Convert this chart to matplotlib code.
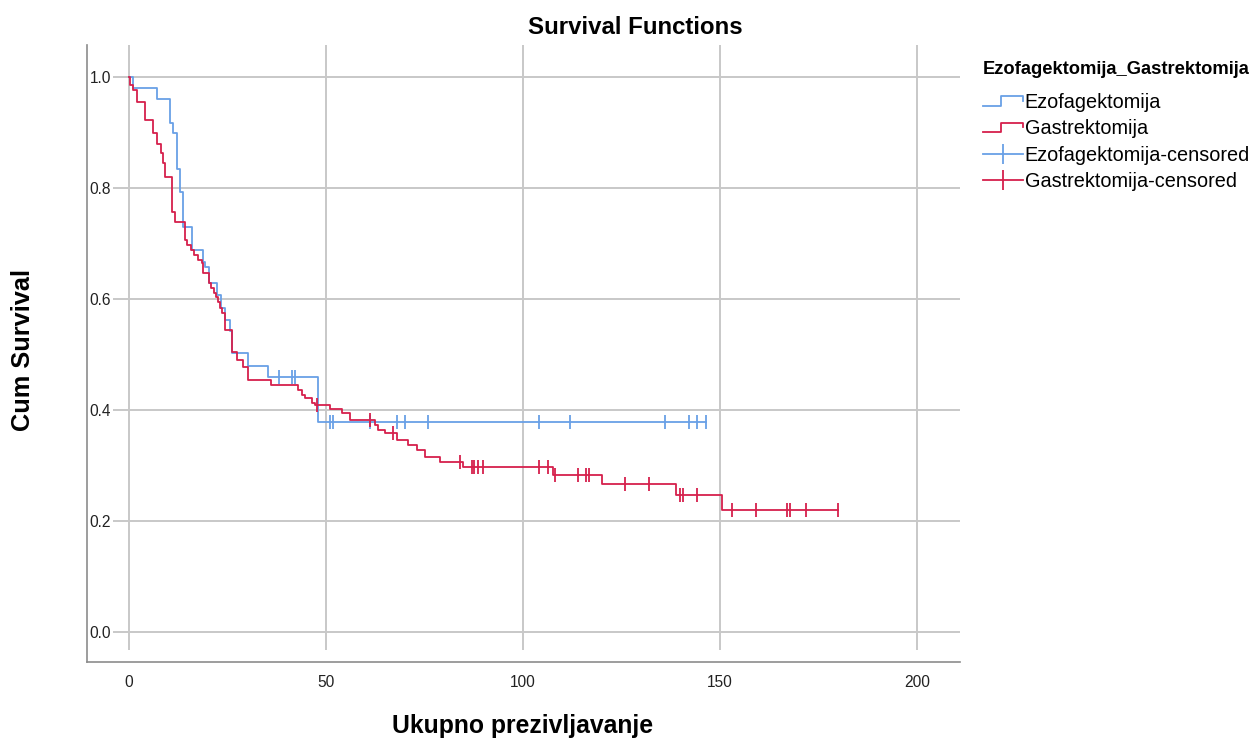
import numpy as np
import matplotlib
matplotlib.use("Agg")
import matplotlib.pyplot as plt
from matplotlib.lines import Line2D
from matplotlib.legend_handler import HandlerBase

plt.rcParams['font.family'] = ['Liberation Sans', 'DejaVu Sans']

# Kaplan-Meier step values: survival after each event time
ezo_times = [0, 1, 7, 10.4, 11.2, 12.2, 12.9, 13.7, 16, 18.8, 19.4, 20.4,
             22.3, 23.4, 24.4, 25.6, 26.2, 30.2, 35.2, 48]
ezo_surv = [1.0, 0.98, 0.96, 0.917, 0.899, 0.834, 0.793, 0.73, 0.688, 0.667,
            0.658, 0.629, 0.607, 0.584, 0.562, 0.542, 0.502, 0.48, 0.46, 0.378]
ezo_censored = [38, 41.4, 42.1, 51, 51.8, 61.2, 68, 70, 76, 104, 112, 136,
                142, 144.2, 146.5]

gas_times = [0, 0.3, 1, 2, 4, 6, 7, 8, 8.7, 9.1, 10.9, 11.7, 14.2, 14.8,
             15.8, 16.6, 17.4, 18.6, 18.9, 20.2, 20.7, 21.5, 22, 22.7, 23.2,
             23.7, 24.4, 26.1, 27.4, 29, 30.2, 36, 43, 44, 44.7, 46.4, 47.3,
             51, 54, 56, 62.4, 63.3, 65, 68, 70.8, 73, 75, 79, 84.8, 107.7,
             120, 138.8, 150.6]
gas_surv = [1.0, 0.986, 0.977, 0.955, 0.922, 0.899, 0.88, 0.863, 0.845, 0.82,
            0.757, 0.739, 0.706, 0.697, 0.688, 0.679, 0.67, 0.665, 0.647,
            0.629, 0.62, 0.611, 0.604, 0.595, 0.584, 0.575, 0.544, 0.505,
            0.49, 0.477, 0.454, 0.445, 0.436, 0.427, 0.421, 0.413, 0.409,
            0.402, 0.395, 0.382, 0.373, 0.364, 0.358, 0.346, 0.337, 0.328,
            0.315, 0.306, 0.297, 0.283, 0.267, 0.247, 0.22]
gas_censored = [47.7, 61.2, 67, 84, 87.1, 87.6, 88.6, 89.8, 104, 106.3,
                108.2, 114, 116, 116.8, 126, 132, 139.8, 140.6, 144.2, 153,
                159, 167, 167.8, 171.8, 180]

groups = ["Ezofagektomija", "Gastrektomija"]
colors = ["#69a0e6", "#d6204c"]


def surv_at(times, surv, t):
    idx = np.searchsorted(times, t, side='right') - 1
    return np.asarray(surv)[idx]


class StepHandler(HandlerBase):
    """Draws a little step shape as the legend key."""
    def create_artists(self, legend, orig_handle, xdescent, ydescent,
                       width, height, fontsize, trans):
        x0 = -xdescent
        y0 = -ydescent
        xs = [x0, x0 + 0.45 * width, x0 + 0.45 * width, x0 + width, x0 + width]
        ys = [y0 + 0.15 * height, y0 + 0.15 * height, y0 + 0.85 * height,
              y0 + 0.85 * height, y0 + 0.5 * height]
        line = Line2D(xs, ys, color=orig_handle.get_color(),
                      lw=orig_handle.get_linewidth(), transform=trans)
        return [line]


W, H = 1253, 740
fig = plt.figure(figsize=(W / 100, H / 100), dpi=100)
ax = fig.add_axes([113 / W, 1 - 650 / H, (960 - 113) / W, (650 - 45) / H])

data = [(ezo_times, ezo_surv, ezo_censored), (gas_times, gas_surv, gas_censored)]
step_handles = []
cens_handles = []
for (times, surv, cens), col, name in zip(data, colors, groups):
    end = max(cens)
    xs = list(times) + [end]
    ys = list(surv) + [surv[-1]]
    ln, = ax.step(xs, ys, where='post', color=col, lw=1.3, zorder=3)
    cy = surv_at(times, surv, cens)
    ax.plot(cens, cy, ls='none', marker='|', ms=10, mew=1.3, color=col, zorder=4)
    step_handles.append(ln)
    cens_handles.append(Line2D([], [], color=col, lw=1.3, marker='|', ms=14, mew=1.3))

ax.set_xlim(-4.06, 210.9)
ax.set_ylim(-0.0324, 1.0577)
ax.set_xticks([0, 50, 100, 150, 200])
ax.set_yticks([0.0, 0.2, 0.4, 0.6, 0.8, 1.0])
ax.set_yticklabels(["0.0", "0.2", "0.4", "0.6", "0.8", "1.0"])
ax.grid(True, color="#c8c8c8", lw=1.4)
ax.set_axisbelow(True)
for s in ax.spines.values():
    s.set_visible(False)
ax.tick_params(axis='both', length=0, labelsize=11.2, labelcolor="#222222")
ax.tick_params(axis='x', pad=18)
ax.tick_params(axis='y', pad=1.5)

# L-shaped outer frame
fig.add_artist(Line2D([87 / W, 87 / W], [1 - 45 / H, 1 - 662 / H],
                      transform=fig.transFigure, color="#8c8c8c", lw=1.2))
fig.add_artist(Line2D([87 / W, 960 / W], [1 - 662 / H, 1 - 662 / H],
                      transform=fig.transFigure, color="#8c8c8c", lw=1.2))

fig.text(635 / W, 1 - 27 / H, "Survival Functions", ha='center', va='center',
         fontsize=17.3, fontweight='bold')
fig.text(523 / W, 1 - 726 / H, "Ukupno prezivljavanje", ha='center', va='center',
         fontsize=17.8, fontweight='bold')
fig.text(23 / W, 1 - 350 / H, "Cum Survival", ha='center', va='center',
         rotation=90, fontsize=18.3, fontweight='bold')

handles = step_handles + cens_handles
labels = ["Ezofagektomija", "Gastrektomija",
          "Ezofagektomija-censored", "Gastrektomija-censored"]
leg = fig.legend(handles, labels, loc='upper left',
                 bbox_to_anchor=(983 / W, 1 - 61 / H), frameon=False,
                 title="Ezofagektomija_Gastrektomija", alignment='left',
                 fontsize=14.3, handlelength=2.0, handletextpad=0.1,
                 labelspacing=0.36, borderpad=0, borderaxespad=0,
                 handler_map={step_handles[0]: StepHandler(),
                              step_handles[1]: StepHandler()})
leg.get_title().set_fontweight('bold')
leg.get_title().set_fontsize(13.2)
leg._legend_box.sep = 11

fig.savefig("out.png", dpi=100)
